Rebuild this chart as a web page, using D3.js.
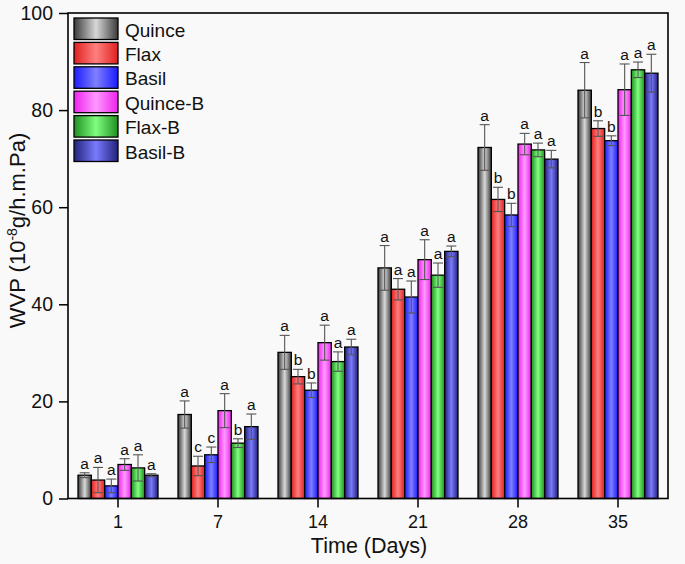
<!DOCTYPE html>
<html><head><meta charset="utf-8">
<script src="https://cdn.jsdelivr.net/npm/d3@7/dist/d3.min.js"></script>
<style>body{margin:0;background:#f9f9f9;}svg{display:block;font-family:"Liberation Sans",Arial,sans-serif;}</style>
</head><body><div id="chart"></div>
<script>
const categories = ["1","7","14","21","28","35"];
const seriesNames = ["Quince","Flax","Basil","Quince-B","Flax-B","Basil-B"];
const quince   = [4.8, 17.3, 30.1, 47.5, 72.3, 84.1];
const flax     = [3.8, 6.7, 25.1, 43.1, 61.6, 76.2];
const basil    = [2.6, 9.0, 22.3, 41.5, 58.4, 73.7];
const quinceB  = [7.0, 18.1, 32.1, 49.2, 73.0, 84.2];
const flaxB    = [6.3, 11.4, 28.2, 46.0, 71.8, 88.3];
const basilB   = [4.8, 14.8, 31.2, 50.9, 69.9, 87.6];
const quinceErr  = [0.5, 2.8, 3.5, 4.6, 4.7, 5.7];
const flaxErr    = [2.6, 2.0, 1.5, 2.2, 2.5, 1.6];
const basilErr   = [1.4, 1.6, 1.5, 3.3, 2.4, 1.0];
const quinceBErr = [1.2, 3.5, 3.6, 4.1, 2.2, 5.3];
const flaxBErr   = [2.7, 0.9, 2.0, 2.5, 1.4, 1.6];
const basilBErr  = [0.3, 2.6, 1.6, 1.1, 1.8, 3.9];
const quinceLetters  = ["a","a","a","a","a","a"];
const flaxLetters    = ["a","c","b","a","b","b"];
const basilLetters   = ["a","c","b","a","b","b"];
const quinceBLetters = ["a","a","a","a","a","a"];
const flaxBLetters   = ["a","b","a","a","a","a"];
const basilBLetters  = ["a","a","a","a","a","a"];
const yTicks = [0,20,40,60,80,100];

const values = [quince, flax, basil, quinceB, flaxB, basilB];
const errors = [quinceErr, flaxErr, basilErr, quinceBErr, flaxBErr, basilBErr];
const letters = [quinceLetters, flaxLetters, basilLetters, quinceBLetters, flaxBLetters, basilBLetters];
const grads = [
  ["#3a3a3a","#d8d8d8"],
  ["#e02020","#ff8080"],
  ["#1a1aff","#8080ff"],
  ["#ee22ee","#ff99ff"],
  ["#1f8f1f","#80ff80"],
  ["#22227a","#7a7aff"]
];

const W = 685, H = 564;
const m = {l:68, r:17, t:13, b:65.5};
const svg = d3.select("#chart").append("svg").attr("width",W).attr("height",H);
svg.append("rect").attr("width",W).attr("height",H).attr("fill","#f9f9f9");

const defs = svg.append("defs");
grads.forEach((g,i)=>{
  const lg = defs.append("linearGradient").attr("id","g"+i).attr("x1","0%").attr("x2","100%").attr("y1","0%").attr("y2","0%");
  lg.append("stop").attr("offset","0%").attr("stop-color",g[0]);
  lg.append("stop").attr("offset","50%").attr("stop-color",g[1]);
  lg.append("stop").attr("offset","100%").attr("stop-color",g[0]);
});

const x0 = d3.scaleBand().domain(categories).range([m.l, W-m.r]).paddingInner(0).paddingOuter(0);
const x1 = d3.scaleBand().domain(d3.range(6)).range([x0.bandwidth()*0.1, x0.bandwidth()*0.9]).padding(0);
const y = d3.scaleLinear().domain([0,100]).range([H-m.b, m.t]);

const g = svg.append("g");
categories.forEach((c,ci)=>{
  values.forEach((vals,si)=>{
    const bx = x0(c)+x1(si), bw = x1.bandwidth();
    const v = vals[ci], e = errors[si][ci];
    g.append("rect").attr("x",bx).attr("y",y(v)).attr("width",bw).attr("height",y(0)-y(v))
      .attr("fill","url(#g"+si+")").attr("stroke","#000").attr("stroke-width",1.3);
    const cx = bx + bw/2;
    const eg = g.append("g").attr("stroke","#555").attr("stroke-width",1.1);
    eg.append("line").attr("x1",cx).attr("x2",cx).attr("y1",y(v+e)).attr("y2",y(v-e));
    eg.append("line").attr("x1",cx-5).attr("x2",cx+5).attr("y1",y(v+e)).attr("y2",y(v+e));
    eg.append("line").attr("x1",cx-5).attr("x2",cx+5).attr("y1",y(v-e)).attr("y2",y(v-e));
    g.append("text").attr("x",cx).attr("y",y(v+e)-4).attr("text-anchor","middle")
      .attr("font-size",15.5).attr("fill","#111").text(letters[si][ci]);
  });
});

// frame
svg.append("rect").attr("x",m.l).attr("y",m.t).attr("width",W-m.r-m.l).attr("height",H-m.b-m.t)
  .attr("fill","none").attr("stroke","#000").attr("stroke-width",1.6);

const yAxis = svg.append("g").attr("transform",`translate(${m.l},0)`)
  .call(d3.axisLeft(y).tickValues(yTicks).tickSize(9).tickPadding(6));
yAxis.select(".domain").remove();
yAxis.selectAll("line").attr("stroke","#000").attr("stroke-width",1.5);
yAxis.selectAll("text").attr("font-size",19.5).attr("fill","#111").attr("font-family","Liberation Sans, Arial, sans-serif");

const xAxis = svg.append("g").attr("transform",`translate(0,${H-m.b})`)
  .call(d3.axisBottom(x0).tickSize(9).tickPadding(8));
xAxis.select(".domain").remove();
xAxis.selectAll("line").attr("stroke","#000").attr("stroke-width",1.5);
xAxis.selectAll("text").attr("font-size",18).attr("fill","#111").attr("font-family","Liberation Sans, Arial, sans-serif");

svg.append("text").attr("x",(m.l+W-m.r)/2 + 1).attr("y",553).attr("text-anchor","middle")
  .attr("font-size",21.5).attr("fill","#111").text("Time (Days)");

const yt = svg.append("text").attr("transform",`translate(25,230.5) rotate(-90)`)
  .attr("text-anchor","middle").attr("font-size",22).attr("fill","#111");
yt.append("tspan").text("WVP (10");
yt.append("tspan").attr("baseline-shift","super").attr("font-size",14).text("-8");
yt.append("tspan").text("g/h.m.Pa)");

// legend
const lg = svg.append("g");
seriesNames.forEach((n,i)=>{
  const yy = 18 + i*24.4;
  lg.append("rect").attr("x",74).attr("y",yy).attr("width",44).attr("height",21.5)
    .attr("fill","url(#g"+i+")").attr("stroke","#000").attr("stroke-width",1.3);
  lg.append("text").attr("x",125).attr("y",yy+18.5).attr("font-size",19).attr("fill","#111").text(n);
});
</script></body></html>
